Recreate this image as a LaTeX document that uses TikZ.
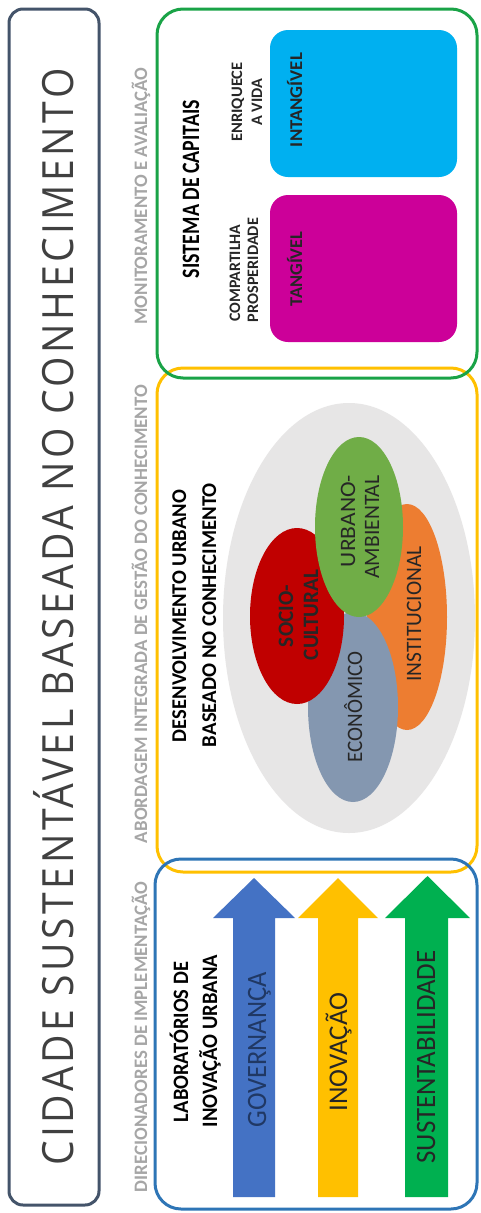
\documentclass[tikz,border=0pt]{standalone}
\usepackage{fontspec}
\setmainfont{Carlito}
\newfontfamily\titlefont[LetterSpace=9]{Open Sans}
\usepackage{graphicx}
\newcommand{\fitw}[2]{\resizebox{#1pt}{\height}{#2}}
\definecolor{titlebd}{HTML}{44546A}
\definecolor{titletx}{HTML}{404040}
\definecolor{headgray}{HTML}{A6A6A6}
\definecolor{bxblue}{HTML}{2E75B6}
\definecolor{bxyellow}{HTML}{FFC000}
\definecolor{bxgreen}{HTML}{1AA347}
\definecolor{arblue}{HTML}{4472C4}
\definecolor{aryellow}{HTML}{FFC000}
\definecolor{argreen}{HTML}{00B050}
\definecolor{elgray}{HTML}{E7E6E6}
\definecolor{elred}{HTML}{C00000}
\definecolor{elecon}{HTML}{8497B0}
\definecolor{elorange}{HTML}{ED7D31}
\definecolor{elgreen}{HTML}{70AD47}
\definecolor{capmag}{HTML}{CC0099}
\definecolor{capblue}{HTML}{00B0F0}
\definecolor{navytx}{HTML}{203864}
\definecolor{darktx}{HTML}{262626}
\begin{document}
\begin{tikzpicture}[x=1pt,y=-1pt,
  txt/.style={anchor=base, rotate=90, inner sep=0pt, outer sep=0pt},
  frame/.style={draw, line width=3pt, rounded corners=26pt, inner sep=0pt},
  capbox/.style={rounded corners=18pt}]
\useasboundingbox (0,0) rectangle (481,1213);
\fill[white] (0,0) rectangle (481,1213);
% title box
\node[draw=titlebd, line width=3pt, rounded corners=14pt, minimum width=90pt, minimum height=1196pt, inner sep=0pt] (titlebox) at (54,607) {};
\node[txt, text=titletx] (title) at (73,617) {\titlefont\fontsize{43}{43}\selectfont\fitw{1097}{CIDADE SUSTENTÁVEL BASEADA NO CONHECIMENTO}};
% section boxes
\node[frame, draw=bxyellow, minimum width=320pt, minimum height=504pt] (yellowbox) at (317,620) {};
\node[frame, draw=bxgreen, minimum width=320pt, minimum height=369pt] (greenbox) at (317,193.5) {};
\node[frame, draw=bxblue, minimum width=322pt, minimum height=350pt] (bluebox) at (316,1034) {};
% headings
\begin{scope}[every node/.style={txt, text=headgray, font=\bfseries\fontsize{19}{19}\selectfont}]
\node (h1) at (147,1037) {\fitw{310}{DIRECIONADORES DE IMPLEMENTAÇÃO}};
\node (h2) at (147,614) {\fitw{458}{ABORDAGEM INTEGRADA DE GESTÃO DO CONHECIMENTO}};
\node (h3) at (147,196) {\fitw{257}{MONITORAMENTO E AVALIAÇÃO}};
\end{scope}
% arrows
\fill[arblue] (233,1197) -- (233,918) -- (213,918) -- (254,878) -- (295,918) -- (275,918) -- (275,1197) -- cycle;
\fill[aryellow] (318,1197) -- (318,918) -- (298,918) -- (338,878) -- (378,918) -- (358,918) -- (358,1197) -- cycle;
\fill[argreen] (405,1197) -- (405,918) -- (385,918) -- (427.5,876) -- (470,918) -- (448,918) -- (448,1197) -- cycle;
\node[txt, text=black, font=\bfseries\fontsize{22}{22}\selectfont] (lab1) at (188,1042) {\fitw{160}{LABORATÓRIOS DE}};
\node[txt, text=black, font=\bfseries\fontsize{22}{22}\selectfont] (lab2) at (217,1041) {\fitw{172}{INOVAÇÃO URBANA}};
\node[txt, text=navytx, font=\fontsize{28}{28}\selectfont] (gov) at (266,1050) {\fitw{155}{GOVERNANÇA}};
\node[txt, text=darktx, font=\fontsize{27}{27}\selectfont] (inov) at (347,1052) {\fitw{119}{INOVAÇÃO}};
\node[txt, text=darktx, font=\fontsize{28}{28}\selectfont] (sust) at (435,1057) {\fitw{213}{SUSTENTABILIDADE}};
% knowledge-based development
\fill[elgray] (349,618) ellipse [x radius=126pt, y radius=215pt];
\fill[elorange] (407,617) ellipse [x radius=40pt, y radius=113pt];
\fill[elecon] (353,707) ellipse [x radius=45pt, y radius=95pt];
\fill[elred] (297,616) ellipse [x radius=47pt, y radius=88pt];
\fill[elgreen] (359,527) ellipse [x radius=44pt, y radius=90pt];
\node[txt, text=black, font=\bfseries\fontsize{21}{21}\selectfont] (dev1) at (186,616) {\fitw{252}{DESENVOLVIMENTO URBANO}};
\node[txt, text=black, font=\bfseries\fontsize{21}{21}\selectfont] (dev2) at (216,615) {\fitw{264}{BASEADO NO CONHECIMENTO}};
\begin{scope}[every node/.style={txt, text=darktx, font=\fontsize{22}{22}\selectfont}]
\node[font=\bfseries\fontsize{22}{22}\selectfont] (soc1) at (293,616) {\fitw{62}{SOCIO-}};
\node[font=\bfseries\fontsize{22}{22}\selectfont] (soc2) at (318,615) {\fitw{90}{CULTURAL}};
\node (econ) at (362,707) {\fitw{111}{ECONÔMICO}};
\node (inst) at (421,614) {\fitw{135}{INSTITUCIONAL}};
\node (urb1) at (355,521) {\fitw{92}{URBANO-}};
\node (urb2) at (379,527) {\fitw{103}{AMBIENTAL}};
\end{scope}
% capitals
\fill[capmag, capbox] (270,195) rectangle (457,342);
\fill[capblue, capbox] (270,30) rectangle (457,177);
\node[txt, text=black, font=\bfseries\fontsize{25}{25}\selectfont] (sis) at (199,189) {\fitw{178}{SISTEMA DE CAPITAIS}};
\begin{scope}[every node/.style={txt, text=darktx, font=\bfseries\fontsize{16}{16}\selectfont}]
\node (comp1) at (240,273) {\fitw{97}{COMPARTILHA}};
\node (comp2) at (258,270) {\fitw{104}{PROSPERIDADE}};
\node (enr1) at (242,102) {\fitw{79}{ENRIQUECE}};
\node (enr2) at (262,102) {\fitw{47}{A VIDA}};
\end{scope}
\node[txt, text=darktx, font=\bfseries\fontsize{18}{18}\selectfont] (tang) at (302,269) {\fitw{75}{TANGÍVEL}};
\node[txt, text=darktx, font=\bfseries\fontsize{18}{18}\selectfont] (intang) at (302,100) {\fitw{94}{INTANGÍVEL}};
\end{tikzpicture}
\end{document}
